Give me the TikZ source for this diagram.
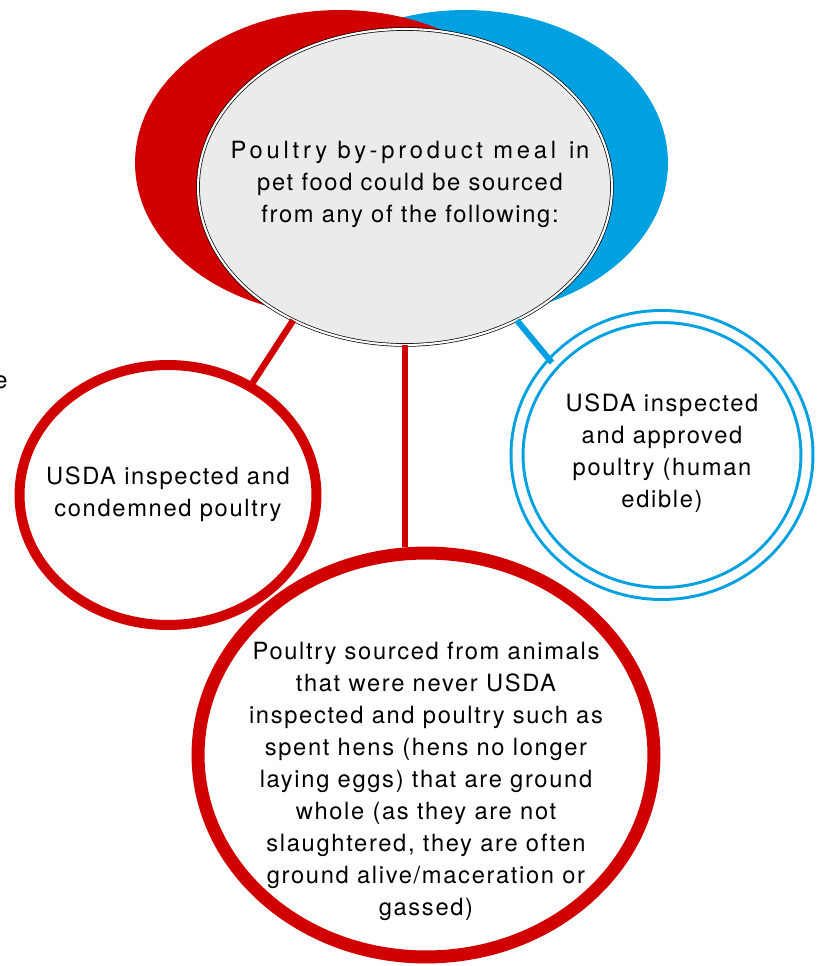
\documentclass[tikz,border=0pt]{standalone}
\usepackage{fontspec}
\setmainfont[LetterSpace=7]{TeX Gyre Heros}
\usepackage{tikz}
\usetikzlibrary{positioning, shapes.geometric, calc}

\definecolor{poultryred}{RGB}{208,0,0}
\definecolor{poultryblue}{RGB}{0,160,225}
\definecolor{mealgray}{RGB}{235,235,235}

\begin{document}
\begin{tikzpicture}[
    x=0.02cm, y=-0.02cm,
    blob/.style={ellipse, inner sep=0pt, draw=none},
    redring/.style={ellipse, inner sep=0pt, draw=poultryred, fill=white},
    bluering/.style={ellipse, inner sep=0pt, draw=poultryblue, line width=0.06cm,
        double=white, double distance=0.18cm},
    redline/.style={draw=poultryred, line width=0.13cm},
    blueline/.style={draw=poultryblue, line width=0.12cm},
    txt/.style={align=center, font=\fontsize{13.5pt}{18.2pt}\selectfont}
]
    \useasboundingbox (0,0) rectangle (822,966);

    % === Top: coloured ellipses behind the question ===
    \node[blob, fill=poultryblue, minimum width=8.12cm, minimum height=6.12cm] (blueBack) at (465,163) {};
    \node[blob, fill=poultryred, minimum width=8.2cm, minimum height=6.12cm] (redBack) at (340,163) {};
    \node[ellipse, inner sep=0pt, fill=mealgray, draw=black, line width=0.4pt,
        double=white, double distance=1.2pt,
        minimum width=8.28cm, minimum height=6.32cm] (meal) at (405,187) {};
    \node[txt] (mealText) at (410,184)
        {{\addfontfeature{LetterSpace=16}Poultry by-product meal}\hspace{0.2em} in\\
         pet food could be sourced\\
         from any of the following:};

    % cut-off text at the left edge
    \node[txt, anchor=base east, inner sep=0pt] (edgeText) at (8,388) {e};

    % === Sources ===
    \node[redring, line width=0.2cm, minimum width=5.94cm, minimum height=5.2cm] (condemned) at (168,495) {};
    \node[txt] (condemnedText) at (168,494) {USDA inspected and\\condemned poultry};

    \node[bluering, minimum width=5.8cm, minimum height=5.54cm] (approved) at (662,455) {};
    \node[txt] (approvedText) at (662,453) {USDA inspected\\and approved\\poultry (human\\edible)};

    \node[redring, line width=0.26cm, minimum width=9.12cm, minimum height=8.08cm] (never) at (426,755) {};
    \node[txt] (neverText) at (426,781)
        {Poultry sourced from animals\\
         that were never USDA\\
         inspected and poultry such as\\
         spent hens (hens no longer\\
         laying eggs) that are ground\\
         whole (as they are not\\
         slaughtered, they are often\\
         ground alive/maceration or\\
         gassed)};

    % === Connectors ===
    \draw[redline] (meal.-130) -- (condemned.53);
    \draw[redline] (meal.south) -- (meal.south |- never.north);
    \draw[blueline] (meal.-50) -- (approved.140);

\end{tikzpicture}
\end{document}
